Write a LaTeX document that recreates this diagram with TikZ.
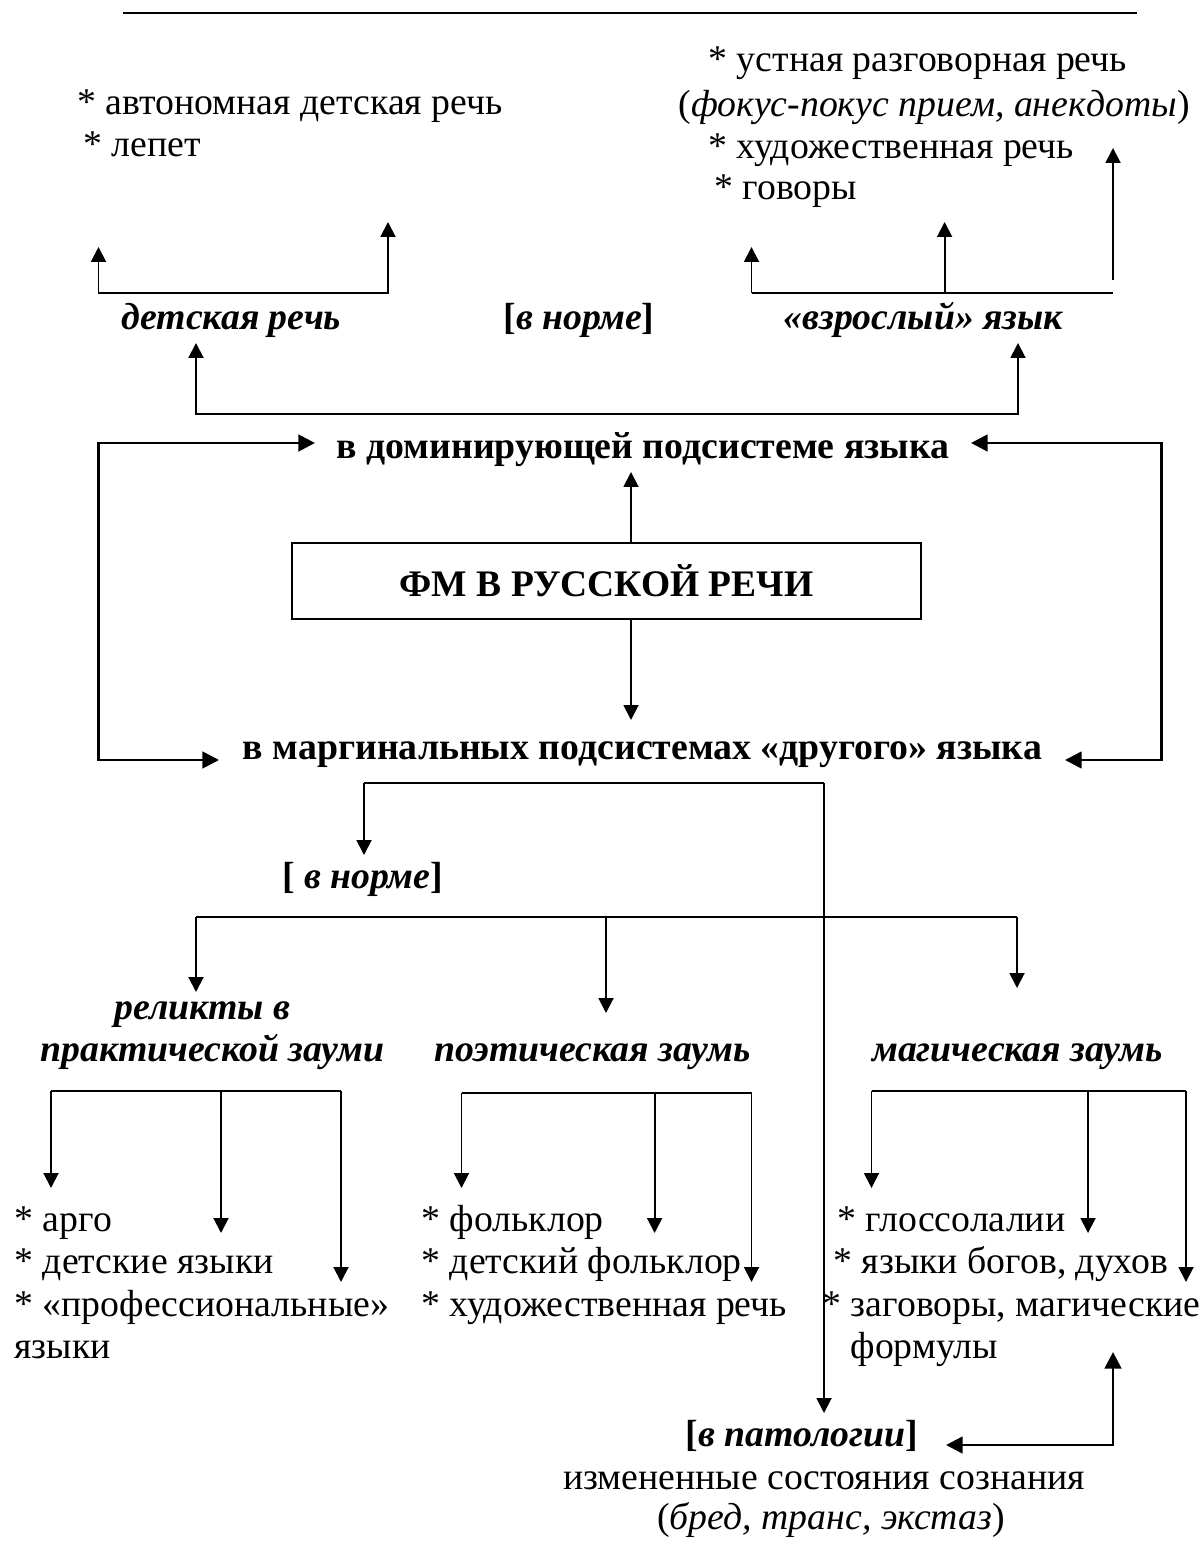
\documentclass[tikz,border=0pt]{standalone}
\usepackage{fontspec}
\setmainfont{Liberation Serif}
\usetikzlibrary{arrows.meta}

\tikzset{
  lbl/.style={inner sep=0pt, text height=0.7em, text depth=0.2em, font=\fontsize{13.6}{15}\selectfont},
  item/.style={lbl, anchor=west},
  head/.style={lbl, font=\fontsize{13.6}{15}\selectfont\bfseries\itshape},
  level/.style={lbl, font=\fontsize{13.6}{15}\selectfont\bfseries},
  fmbox/.style={draw, line width=0.75pt, minimum width=226.4pt, minimum height=27.4pt, inner sep=0pt, font=\fontsize{13.5}{16}\selectfont\bfseries},
  conn/.style={line width=0.7pt},
  arr/.style={conn, -{Triangle[length=5.4pt,width=5.4pt]}},
  both/.style={conn, {Triangle[length=5.4pt,width=5.4pt]}-{Triangle[length=5.4pt,width=5.4pt]}},
  loopline/.style={line width=1pt, {Triangle[length=6pt,width=6pt]}-{Triangle[length=6pt,width=6pt]}}
}

\begin{document}
\begin{tikzpicture}[x=0.36pt,y=0.36pt,yscale=-1,xscale=1]
\useasboundingbox (0,0) rectangle (1199,1566);

%Top rule
\draw [line width=0.7pt] (123,13) -- (1137,13) ;

% Text Node
\node[item] (avto) at (77,108) {* автономная детская речь};
\node[item] (lepet) at (83,150) {* лепет};
\node[item] (ustn) at (708,65) {* устная разговорная речь};
\node[item] (fokus) at (678,110) {(\textit{фокус-покус прием, анекдоты})};
\node[item] (hudtop) at (708,152) {* художественная речь};
\node[item] (govor) at (714,193) {* говоры};

% Text Node
\node[head] (detsk) at (231.5,323) {детская речь};
\node[head] (normtop) at (579,323) {\upshape[\itshape в норме\upshape]};
\node[head] (vzros) at (923.5,323) {«взрослый» язык};

% Text Node
\node[level] (dom) at (643,452) {в доминирующей подсистеме языка};
\node[fmbox] (fm) at (606.5,581) {ФМ В РУССКОЙ РЕЧИ};
\node[level] (marg) at (642.5,753) {в маргинальных подсистемах «другого» языка};

% Text Node
\node[head] (normbot) at (362.5,882) {\upshape[ \itshape в норме\upshape]};
\node[head] (rel) at (202.5,1013) {реликты в};
\node[head] (prak) at (212.5,1055) {практической зауми};
\node[head] (poet) at (592.5,1055) {поэтическая заумь};
\node[head] (mag) at (1017.5,1055) {магическая заумь};

% Text Node
\node[item] (argo) at (14,1225) {* арго};
\node[item] (detyaz) at (14,1267) {* детские языки};
\node[item] (prof) at (14,1310) {* «профессиональные»};
\node[item] (profb) at (14,1352) {языки};
\node[item] (folk) at (421,1225) {* фольклор};
\node[item] (detfolk) at (421,1267) {* детский фольклор};
\node[item] (hudbot) at (421,1310) {* художественная речь};
\node[item] (gloss) at (837,1225) {* глоссолалии};
\node[item] (bogi) at (833,1267) {* языки богов, духов};
\node[item] (zagov) at (822,1310) {* заговоры, магические};
\node[item] (zagovb) at (850,1352) {формулы};

% Text Node
\node[head] (pato) at (802,1440) {\upshape[\itshape в патологии\upshape]};
\node[lbl] (izm) at (824,1483) {измененные состояния сознания};
\node[lbl] (bred) at (831,1523) {(\textit{бред, транс, экстаз})};

%Coordinates of bends and tips
\coordinate (dsA) at (98.5,247);
\coordinate (dsB) at (388,222);
\coordinate (vzA) at (751.5,247);
\coordinate (vzB) at (944.6,222);
\coordinate (vzC) at (1113,148);
\coordinate (vzCs) at (1113,280);
\coordinate (upDs) at (196,343);
\coordinate (upVz) at (1018,343);
\coordinate (fmUp) at (631,472);
\coordinate (fmDn) at (631,720);
\coordinate (lpA) at (315,443);
\coordinate (lpB) at (219,760);
\coordinate (lpX) at (98.5,0);
\coordinate (rpA) at (971,443);
\coordinate (rpB) at (1065,760);
\coordinate (rpX) at (1161.5,0);
\coordinate (mgL) at (364,783);
\coordinate (mgR) at (824,783);
\coordinate (mgT) at (364,855);
\coordinate (patT) at (824,1413);
\coordinate (nbL) at (196,917);
\coordinate (nbR) at (1017,917);
\coordinate (nb1) at (196,992);
\coordinate (nb2) at (606,1013);
\coordinate (nb3) at (1017,988);
\coordinate (patA) at (946,1445);
\coordinate (patB) at (1113,1352);
\coordinate (patX) at (1113,1445);

%Top brackets
\draw [both] (dsA) -- (dsA |- 0,293) -- (dsB |- 0,293) -- (dsB) ;
\draw [conn] (vzA |- 0,293) -- (vzCs |- 0,293) ;
\draw [arr] (vzA |- 0,293) -- (vzA) ;
\draw [arr] (vzB |- 0,293) -- (vzB) ;
\draw [arr] (vzCs) -- (vzC) ;
\draw [both] (upDs) -- (upDs |- 0,414) -- (upVz |- 0,414) -- (upVz) ;

%Centre
\draw [arr] (fm.north -| fmUp) -- (fmUp) ;
\draw [arr] (fm.south -| fmDn) -- (fmDn) ;
\draw [loopline] (lpA) -- (lpX |- lpA) -- (lpX |- lpB) -- (lpB) ;
\draw [loopline] (rpA) -- (rpX |- rpA) -- (rpX |- rpB) -- (rpB) ;

%Marginal branch
\draw [conn] (mgL) -- (mgR) ;
\draw [arr] (mgL) -- (mgT) ;
\draw [arr] (mgR) -- (patT) ;
\draw [conn] (nbL) -- (nbR) ;
\draw [arr] (nbL) -- (nb1) ;
\draw [arr] (nb2 |- nbL) -- (nb2) ;
\draw [arr] (nbR) -- (nb3) ;

%Lower brackets
\foreach \l/\m/\r/\y in {51/221/341/1091, 461.5/654.6/751.5/1093, 871.5/1088/1186/1091}{
  \draw [conn] (\l,\y) -- (\r,\y) ;
  \draw [arr] (\l,\y) -- (\l,1188) ;
  \draw [arr] (\m,\y) -- (\m,1233) ;
  \draw [arr] (\r,\y) -- (\r,1282) ;
}

%Pathology
\draw [line width=1pt, {Triangle[length=6pt,width=6pt]}-{Triangle[length=6pt,width=6pt]}] (patA) -- (patX) -- (patB) ;

\end{tikzpicture}
\end{document}
